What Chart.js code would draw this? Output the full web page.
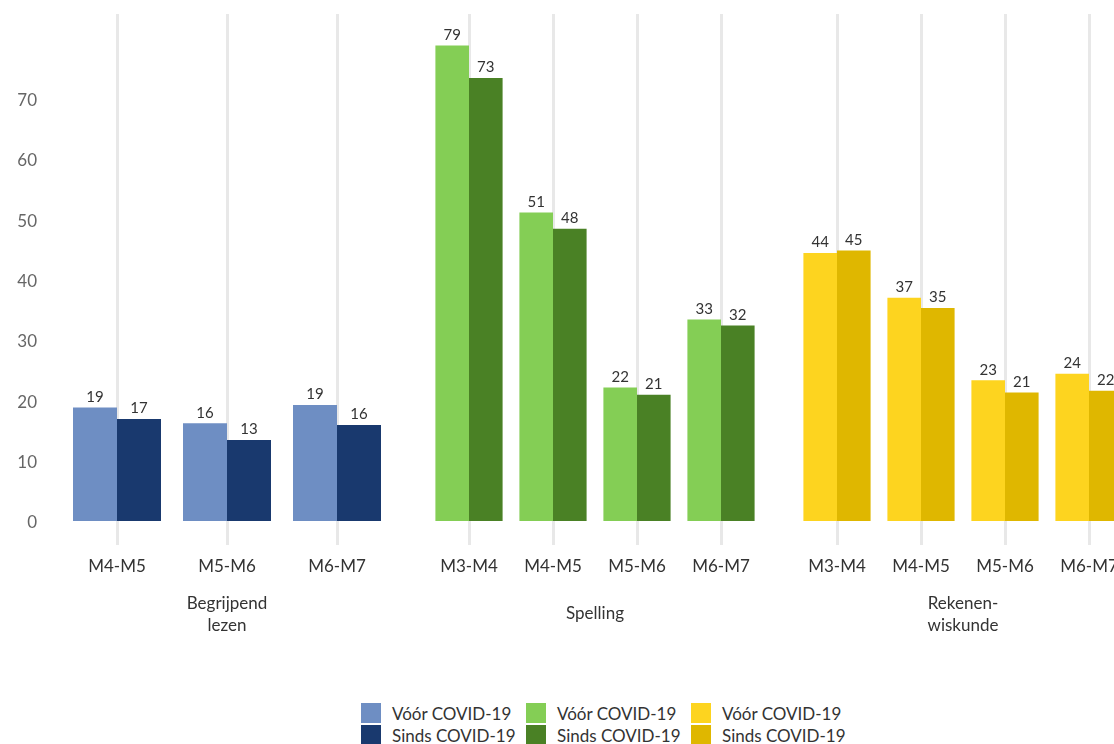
<!DOCTYPE html>
<html>
<head>
<meta charset="utf-8">
<script src="https://cdn.jsdelivr.net/npm/chart.js@4/dist/chart.umd.min.js"></script>
<style>
  body { margin: 0; width: 1114px; height: 744px; overflow: hidden; background: #fff; font-family: Lato, sans-serif; position: relative; }
  canvas { position: absolute; top: 0; }
  #legend { position: absolute; left: 361px; top: 702px; display: grid; grid-template-columns: 165px 165px 165px; grid-auto-flow: column; grid-template-rows: 22px 22px; }
  .item { display: flex; align-items: center; font-size: 17px; color: #333; white-space: nowrap; }
  .box { width: 20px; height: 20px; margin-right: 11px; }
</style>
</head>
<body>
<canvas id="lezen" width="392" height="660" style="left:0px"></canvas>
<canvas id="spelling" width="336" height="660" style="left:427px"></canvas>
<canvas id="rekenen" width="336" height="660" style="left:795px"></canvas>
<div id="legend"></div>
<script>
// data (labels above bars are the rounded values)
const seriesNames = ['Vóór COVID-19', 'Sinds COVID-19'];
const yTicks = [0, 10, 20, 30, 40, 50, 60, 70];

const lezenLabels = ['M4-M5', 'M5-M6', 'M6-M7'];
const lezenVoor = [18.8, 16.2, 19.2];
const lezenSinds = [16.9, 13.4, 15.9];

const spellingLabels = ['M3-M4', 'M4-M5', 'M5-M6', 'M6-M7'];
const spellingVoor = [78.8, 51.1, 22.1, 33.4];
const spellingSinds = [73.4, 48.4, 20.9, 32.4];

const rekenenLabels = ['M3-M4', 'M4-M5', 'M5-M6', 'M6-M7'];
const rekenenVoor = [44.4, 37.0, 23.3, 24.4];
const rekenenSinds = [44.8, 35.3, 21.3, 21.6];

const blues = ['#6E8EC3', '#19396E'];
const greens = ['#84CE55', '#4A8125'];
const yellows = ['#FDD41F', '#DFB700'];

Chart.defaults.font.family = 'Lato, sans-serif';
Chart.defaults.color = '#333';

// value labels on top of the bars
const barLabels = {
    id: 'barLabels',
    afterDatasetsDraw(chart) {
        const ctx = chart.ctx;
        ctx.save();
        ctx.font = '15px Lato, sans-serif';
        ctx.fillStyle = '#333';
        ctx.textAlign = 'center';
        ctx.textBaseline = 'bottom';
        chart.data.datasets.forEach((ds, i) => {
            chart.getDatasetMeta(i).data.forEach((bar, j) => {
                ctx.fillText(Math.round(ds.data[j]), bar.x, bar.y - 3);
            });
        });
        ctx.restore();
    }
};

function makePanel(id, labels, voor, sinds, colors, title, titlePad, showY) {
    const ctx = document.getElementById(id).getContext('2d');
    new Chart(ctx, {
        type: 'bar',
        data: {
            labels: labels,
            datasets: [
                { label: seriesNames[0], data: voor, backgroundColor: colors[0] },
                { label: seriesNames[1], data: sinds, backgroundColor: colors[1] }
            ]
        },
        options: {
            responsive: false,
            animation: false,
            layout: { padding: { top: 14 } },
            datasets: { bar: { categoryPercentage: 0.8, barPercentage: 1.0 } },
            plugins: { legend: { display: false }, tooltip: { enabled: false } },
            scales: {
                x: {
                    grid: { offset: false, color: '#e8e8e8', lineWidth: 3, drawTicks: true, tickLength: 24 },
                    border: { display: false },
                    ticks: { color: '#333', font: { size: 17 }, padding: 11 },
                    title: { display: true, text: title, color: '#333', font: { size: 17, lineHeight: 1.3 }, padding: { top: 0, bottom: titlePad } },
                    afterFit(scale) {
                        scale.height = 139;
                        scale.paddingLeft = 0;
                        scale.paddingRight = 0;
                    }
                },
                y: {
                    display: showY,
                    min: 0,
                    max: 84,
                    grid: { display: false, drawTicks: false },
                    border: { display: false },
                    ticks: { color: '#666', font: { size: 17 }, padding: 25, labelOffset: 2 },
                    afterBuildTicks(scale) { scale.ticks = yTicks.map(v => ({ value: v })); },
                    afterFit(scale) {
                        if (showY) scale.width = 62;
                        scale.paddingTop = 0;
                        scale.paddingBottom = 0;
                    }
                }
            }
        },
        plugins: [barLabels]
    });
}

makePanel('lezen', lezenLabels, lezenVoor, lezenSinds, blues, ['Begrijpend', 'lezen'], 23, true);
makePanel('spelling', spellingLabels, spellingVoor, spellingSinds, greens, 'Spelling', 35, false);
makePanel('rekenen', rekenenLabels, rekenenVoor, rekenenSinds, yellows, ['Rekenen-', 'wiskunde'], 23, false);

// legend: one column per subject
const legend = document.getElementById('legend');
[blues, greens, yellows].forEach(colors => {
    colors.forEach((c, i) => {
        const item = document.createElement('div');
        item.className = 'item';
        item.innerHTML = '<span class="box" style="background:' + c + '"></span>' + seriesNames[i];
        legend.appendChild(item);
    });
});
</script>
</body>
</html>
